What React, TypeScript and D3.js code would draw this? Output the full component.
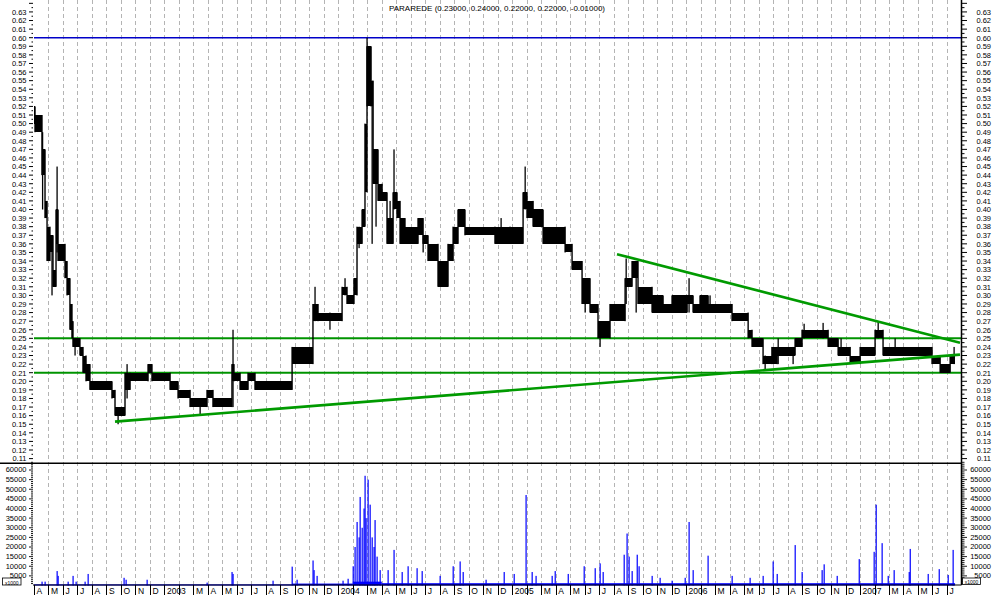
import React from "react";
import * as d3 from "d3";

const TITLE = "PARAREDE (0.23000, 0.24000, 0.22000, 0.22000, -0.01000)";

// x unit: months elapsed since 1 April 2002
const monthLabels = [
  "A", "M", "J", "J", "A", "S", "O", "N", "D",
  "2003", "", "M", "A", "M", "J", "J", "A", "S", "O", "N", "D",
  "2004", "", "M", "A", "M", "J", "J", "A", "S", "O", "N", "D",
  "2005", "", "M", "A", "M", "J", "J", "A", "S", "O", "N", "D",
  "2006", "", "M", "A", "M", "J", "J", "A", "S", "O", "N", "D",
  "2007", "", "M", "A", "M", "J", "J",
];

// price trading ranges (blocks): start month, low, high
const segStart = [0, 0.07, 0.55, 0.76, 0.9, 1.1, 1.31, 1.52, 1.66, 2.14, 2.28, 2.48, 2.62, 2.69, 3.17, 3.38, 3.59, 3.86, 5.38, 5.59, 6.28, 6.63, 7.87, 8.14, 9.39, 9.94, 10.77, 11.94, 12.35, 13.66, 13.8, 14.22, 14.77, 15.25, 17.81, 19.25, 19.6, 21.26, 21.6, 22.08, 22.29, 22.64, 22.84, 22.98, 23.26, 23.4, 23.74, 24.02, 24.36, 24.78, 25.05, 25.26, 25.6, 26.5, 26.85, 27.19, 27.88, 28.57, 28.92, 29.26, 29.74, 31.81, 32.85, 33.75, 34.02, 34.44, 35.13, 36.65, 37.13, 37.82, 38.37, 38.92, 39.75, 40.79, 41.27, 41.68, 42.65, 43.41, 44.03, 45.07, 45.48, 45.96, 46.52, 48.17, 49.28, 49.55, 50.31, 50.92, 51.28, 52.52, 53.0, 54.8, 55.49, 56.32, 57.01, 58.04, 58.59, 61.97, 62.53, 63.22];
const segLow = [0.5, 0.49, 0.44, 0.39, 0.34, 0.35, 0.31, 0.36, 0.34, 0.32, 0.3, 0.26, 0.25, 0.24, 0.23, 0.21, 0.2, 0.19, 0.18, 0.16, 0.19, 0.2, 0.21, 0.2, 0.19, 0.18, 0.17, 0.18, 0.17, 0.2, 0.2, 0.19, 0.2, 0.19, 0.22, 0.27, 0.27, 0.3, 0.29, 0.3, 0.36, 0.38, 0.42, 0.52, 0.52, 0.43, 0.41, 0.41, 0.36, 0.4, 0.39, 0.36, 0.36, 0.37, 0.36, 0.34, 0.31, 0.34, 0.36, 0.38, 0.37, 0.36, 0.36, 0.4, 0.39, 0.38, 0.36, 0.35, 0.33, 0.29, 0.28, 0.25, 0.27, 0.31, 0.32, 0.29, 0.28, 0.28, 0.28, 0.29, 0.28, 0.28, 0.28, 0.27, 0.25, 0.24, 0.22, 0.22, 0.23, 0.24, 0.25, 0.24, 0.23, 0.22, 0.23, 0.25, 0.23, 0.22, 0.21, 0.22];
const segHigh = [0.52, 0.51, 0.47, 0.41, 0.38, 0.37, 0.33, 0.4, 0.36, 0.34, 0.32, 0.29, 0.27, 0.25, 0.24, 0.23, 0.22, 0.2, 0.19, 0.17, 0.21, 0.21, 0.22, 0.21, 0.2, 0.19, 0.18, 0.19, 0.18, 0.22, 0.21, 0.2, 0.21, 0.2, 0.24, 0.29, 0.28, 0.31, 0.3, 0.32, 0.38, 0.4, 0.5, 0.59, 0.55, 0.47, 0.43, 0.42, 0.39, 0.42, 0.41, 0.39, 0.38, 0.39, 0.37, 0.36, 0.34, 0.36, 0.38, 0.4, 0.38, 0.38, 0.38, 0.42, 0.41, 0.4, 0.38, 0.36, 0.34, 0.32, 0.29, 0.27, 0.29, 0.32, 0.34, 0.31, 0.3, 0.29, 0.3, 0.3, 0.29, 0.3, 0.29, 0.28, 0.26, 0.25, 0.23, 0.24, 0.24, 0.25, 0.26, 0.25, 0.24, 0.23, 0.24, 0.26, 0.24, 0.23, 0.22, 0.23];
const lastBar = 63.56;

// intraday extremes drawn as thin lines
const wickAt = [0.59, 1.24, 1.59, 2.83, 5.8, 6.42, 11.46, 13.73, 19.39, 20.42, 21.46, 22.43, 22.98, 23.33, 23.6, 24.57, 24.84, 26.85, 32.23, 33.89, 38.03, 39.06, 40.86, 41.55, 45.2, 46.65, 50.45, 51.35, 52.38, 53.14, 54.45, 55.69, 58.25, 59.42, 63.49];
const wickLow = [0.4, 0.3, 0.35, 0.23, 0.15, 0.18, 0.16, 0.17, 0.27, 0.26, 0.3, 0.355, 0.52, 0.36, 0.38, 0.36, 0.4, 0.35, 0.36, 0.4, 0.28, 0.24, 0.29, 0.28, 0.28, 0.28, 0.213, 0.22, 0.22, 0.25, 0.25, 0.23, 0.25, 0.23, 0.22];
const wickHigh = [0.49, 0.37, 0.45, 0.25, 0.17, 0.22, 0.18, 0.26, 0.31, 0.28, 0.32, 0.38, 0.6, 0.55, 0.47, 0.41, 0.47, 0.37, 0.39, 0.45, 0.32, 0.27, 0.343, 0.34, 0.32, 0.3, 0.23, 0.25, 0.24, 0.267, 0.268, 0.25, 0.27, 0.25, 0.24];

// volume: background daily level and individual sessions
const volBaseStart = [0, 17.8, 22.0, 24.0, 33.0];
const volBaseValue = [600, 1000, 2000, 1200, 1200];
const volAt = [0.55, 0.76, 1.59, 1.66, 2.35, 2.69, 2.9, 3.52, 3.73, 6.21, 6.35, 7.8, 11.94, 13.66, 13.73, 16.49, 17.81, 18.15, 19.25, 19.32, 19.53, 21.32, 21.67, 22.02, 22.15, 22.29, 22.43, 22.5, 22.64, 22.77, 22.84, 22.91, 23.05, 23.19, 23.33, 23.46, 23.53, 23.67, 23.88, 24.43, 24.84, 25.4, 25.81, 26.43, 26.78, 28.02, 28.92, 29.4, 29.61, 31.19, 32.44, 33.13, 33.95, 34.37, 34.64, 35.75, 35.96, 36.86, 37.96, 38.72, 39.06, 39.27, 40.72, 40.92, 41.06, 41.27, 41.62, 41.75, 42.65, 43.2, 44.03, 44.93, 45.2, 45.48, 46.51, 48.17, 49.41, 50.31, 51.0, 51.28, 52.52, 53.0, 54.38, 54.52, 55.42, 56.94, 57.97, 58.11, 58.52, 58.94, 59.35, 60.39, 60.46, 61.7, 62.46, 63.08, 63.42];
const volValue = [2000, 2000, 7500, 5000, 2000, 5000, 2000, 2000, 6000, 4000, 3000, 3000, 1500, 7000, 6000, 2500, 9800, 3000, 13000, 8000, 5000, 2500, 3500, 10000, 20000, 33000, 25000, 46000, 30000, 40000, 57000, 35000, 55000, 42000, 25000, 20000, 34000, 15000, 8000, 8000, 18500, 7000, 10000, 9000, 7500, 5000, 10000, 12500, 7000, 3000, 7000, 6000, 47000, 7000, 5000, 5000, 7500, 6000, 10000, 9000, 11500, 7000, 16000, 27000, 15000, 7500, 16000, 10000, 5000, 4000, 2500, 4000, 33000, 8000, 15500, 5000, 4000, 5000, 12500, 6000, 21000, 7000, 8000, 11000, 5000, 13700, 17500, 42000, 22000, 5000, 8000, 7000, 19000, 6000, 8500, 5500, 18500];

const blueLevel = 0.6;
const greenLevels = [0.25, 0.21];
const supportLine = [[5.59, 0.153], [63.9, 0.231]];
const resistanceLine = [[40.23, 0.348], [63.9, 0.245]];

const priceTicks = d3.range(11, 65).map((v) => v / 100);
const priceLabels = d3.range(11, 64).map((v) => v / 100);
const volMinorTicks = d3.range(1000, 65000, 1000);
const volLabels = d3.range(5000, 65000, 5000);

const FONT = "'Liberation Sans', Arial, sans-serif";

export default function App() {
  const x = d3.scaleLinear().domain([0, 63.9]).range([34, 960]);
  const yP = d3.scaleLinear().domain([0.11, 0.6]).range([458.6, 37.7]);
  const yV = d3.scaleLinear().domain([0, 60000]).range([585.5, 470]);

  const leftX = x(0);
  const rightX = 961.5;
  const months = d3.range(0, 64);

  return (
    <svg
      width={994}
      height={595}
      style={{ position: "absolute", left: 0, top: 0, background: "#fff" }}
      fontFamily={FONT}
    >
      <rect x={0} y={0} width={994} height={595} fill="#fff" />
      {/* month grid */}
      {months.slice(1).map((m) => (
        <line
          key={"g" + m}
          x1={Math.round(x(m)) + 0.5}
          x2={Math.round(x(m)) + 0.5}
          y1={0}
          y2={585}
          stroke="#b4b4b4"
          strokeDasharray="4,3"
          strokeWidth={1}
        />
      ))}
      <text x={497} y={10.5} fontSize={8} textAnchor="middle" fill="#000">
        {TITLE}
      </text>

      {/* price levels */}
      <line x1={leftX} x2={rightX} y1={yP(blueLevel)} y2={yP(blueLevel)} stroke="#0000c8" strokeWidth={1.4} />
      {greenLevels.map((g) => (
        <line key={"lv" + g} x1={leftX} x2={rightX} y1={yP(g)} y2={yP(g)} stroke="#009400" strokeWidth={2} />
      ))}

      {/* price blocks */}
      {segStart.map((s, i) => {
        const e = i + 1 < segStart.length ? segStart[i + 1] : lastBar;
        return (
          <rect
            key={"s" + i}
            x={x(s)}
            width={Math.max(1, x(e) - x(s))}
            y={yP(segHigh[i])}
            height={Math.max(1, yP(segLow[i]) - yP(segHigh[i]))}
            fill="#000"
            shapeRendering="crispEdges"
          />
        );
      })}
      {/* session bars joining consecutive ranges */}
      {segStart.slice(1).map((s, j) => {
        const lo = Math.min(segLow[j], segLow[j + 1]);
        const hi = Math.max(segHigh[j], segHigh[j + 1]);
        return (
          <rect
            key={"c" + j}
            x={x(s) - 0.7}
            width={1.4}
            y={yP(hi)}
            height={yP(lo) - yP(hi)}
            fill="#000"
          />
        );
      })}
      {wickAt.map((w, i) => (
        <rect
          key={"w" + i}
          x={x(w) - 0.6}
          width={1.3}
          y={yP(wickHigh[i])}
          height={yP(wickLow[i]) - yP(wickHigh[i])}
          fill="#000"
        />
      ))}

      {/* trend lines */}
      {[supportLine, resistanceLine].map((l, i) => (
        <line
          key={"t" + i}
          x1={x(l[0][0])}
          y1={yP(l[0][1])}
          x2={x(l[1][0])}
          y2={yP(l[1][1])}
          stroke="#009a00"
          strokeWidth={2.6}
        />
      ))}

      {/* panel separator */}
      <line x1={0} x2={rightX} y1={463.3} y2={463.3} stroke="#000" strokeWidth={1.5} />

      {/* volume */}
      {volBaseStart.map((s, i) => {
        const e = i + 1 < volBaseStart.length ? volBaseStart[i + 1] : lastBar;
        return (
          <rect
            key={"vb" + i}
            x={x(s)}
            width={x(e) - x(s)}
            y={yV(volBaseValue[i])}
            height={yV(0) - yV(volBaseValue[i])}
            fill="#0000ff"
          />
        );
      })}
      {volAt.map((m, i) => (
        <rect
          key={"v" + i}
          x={x(m) - 0.5}
          width={1.2}
          y={yV(volValue[i])}
          height={yV(0) - yV(volValue[i])}
          fill="#0000ff"
        />
      ))}

      {/* axes frame */}
      <line x1={rightX} x2={rightX} y1={0} y2={585} stroke="#000" strokeWidth={1.5} />
      <line x1={leftX - 1} x2={rightX} y1={585} y2={585} stroke="#000" strokeWidth={1.2} />

      {/* price axis ticks & labels */}
      {priceTicks.map((v) => (
        <g key={"pt" + v}>
          <line x1={29} x2={33} y1={yP(v)} y2={yP(v)} stroke="#000" />
          <line x1={31.5} x2={33} y1={yP(v + 0.005)} y2={yP(v + 0.005)} stroke="#000" />
          <line x1={rightX} x2={967} y1={yP(v)} y2={yP(v)} stroke="#000" />
          <line x1={rightX} x2={964.5} y1={yP(v + 0.005)} y2={yP(v + 0.005)} stroke="#000" />
        </g>
      ))}
      {priceLabels.map((v) => (
        <g key={"pl" + v} fontSize={7.5} fill="#000">
          <text x={26.5} y={yP(v) + 2.8} textAnchor="end">{v.toFixed(2)}</text>
          <text x={991} y={yP(v) + 2.8} textAnchor="end">{v.toFixed(2)}</text>
        </g>
      ))}

      {/* volume axis ticks & labels */}
      {volMinorTicks.map((v) => (
        <g key={"vt" + v}>
          <line x1={v % 5000 === 0 ? 29 : 31} x2={33} y1={yV(v)} y2={yV(v)} stroke="#000" strokeWidth={0.9} />
          <line x1={rightX} x2={v % 5000 === 0 ? 967 : 964.5} y1={yV(v)} y2={yV(v)} stroke="#000" strokeWidth={0.9} />
        </g>
      ))}
      {volLabels.map((v) => (
        <g key={"vl" + v} fontSize={7.5} fill="#000">
          <text x={26.5} y={yV(v) + 2.4} textAnchor="end">{v}</text>
          <text x={991} y={yV(v) + 2.4} textAnchor="end">{v}</text>
        </g>
      ))}
      <rect x={2.5} y={578} width={18.5} height={7} fill="#fff" stroke="#000" strokeWidth={0.8} />
      <text x={11.7} y={584.6} fontSize={5} textAnchor="middle">x1000</text>
      <rect x={962.5} y={578} width={18} height={6.5} fill="#fff" stroke="#000" strokeWidth={0.8} />
      <text x={971.5} y={584.4} fontSize={5} textAnchor="middle">x1000</text>

      {/* time axis */}
      {months.map((m) => (
        <g key={"mt" + m}>
          <line x1={Math.round(x(m)) + 0.5} x2={Math.round(x(m)) + 0.5} y1={585} y2={595} stroke="#000" />
          {monthLabels[m] ? (
            <text x={x(m) + 2.5} y={594} fontSize={8.5} fill="#000">
              {monthLabels[m]}
            </text>
          ) : null}
        </g>
      ))}
    </svg>
  );
}
